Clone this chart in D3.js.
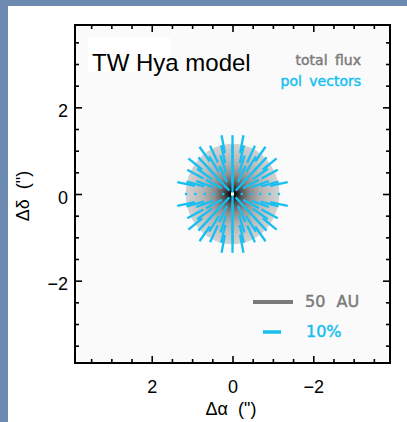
<!DOCTYPE html>
<html>
<head>
<meta charset="utf-8">
<script src="https://cdn.jsdelivr.net/npm/d3@7"></script>
<style>
  body{margin:0;padding:0;background:#fff;}
  svg{display:block;}
</style>
</head>
<body>
<div id="chart"></div>
<script>
// ticks (arcsec)
var majorTicks = [-2, 0, 2]
var minorTicks = [-3.5, -3, -2.5, -1.5, -1, -0.5, 0.5, 1, 1.5, 2.5, 3, 3.5]

// disk: radius in arcsec, total flux profile (radius fraction -> grey level)
var diskRadius = 1.16
var fluxRadius = [0, 0.08, 0.2, 0.38, 0.6, 0.85, 1]
var fluxGrey   = [0, 25, 85, 140, 178, 200, 210]

// grid of polarization vectors (arcsec)
var gridOffsets = [-1.15, -0.92, -0.69, -0.46, -0.23, 0, 0.23, 0.46, 0.69, 0.92, 1.15]
var polRingRadius = [0.23, 0.46, 0.69, 0.92, 1.15]
var polRingPct    = [10, 10, 10, 10.2, 10]
var polMidplanePct = 0.6

var W = 407, H = 422
var pl = 75, pr = 390, pt = 25, pb = 363
var cyan = "#16bff2", grey = "#7a7a7a"

var svg = d3.select("#chart").append("svg")
	.attr("width", W).attr("height", H)

// slide border
svg.append("rect").attr("x",0).attr("y",0).attr("width",W).attr("height",H).attr("fill","#6d8ab0")
svg.append("rect").attr("x",8).attr("y",6).attr("width",W-8).attr("height",H-6).attr("fill","#fff")

var x = d3.scaleLinear().domain([3.9, -3.9]).range([pl, pr])
var y = d3.scaleLinear().domain([-3.9, 3.9]).range([pb, pt])

svg.append("rect").attr("x",pl).attr("y",pt).attr("width",pr-pl).attr("height",pb-pt).attr("fill","#fafafa")

// total flux disk
var defs = svg.append("defs")
var grad = defs.append("radialGradient").attr("id","flux")
var greyScale = d3.scaleLinear().domain([0,255]).range(["#000","#fff"])
fluxRadius.forEach(function(r,i){
	grad.append("stop").attr("offset", r).attr("stop-color", greyScale(fluxGrey[i]))
})
svg.append("ellipse")
	.attr("cx", x(0)).attr("cy", y(0))
	.attr("rx", Math.abs(x(diskRadius)-x(0)))
	.attr("ry", Math.abs(y(diskRadius)-y(0)))
	.attr("fill","url(#flux)")

// vectors
var lenScale = d3.scaleLinear().domain([0,10]).range([0,18])
var polAt = d3.scaleQuantize().domain([0.115, 1.265]).range(polRingPct)
var vecs = []
gridOffsets.forEach(function(gx){
	gridOffsets.forEach(function(gy){
		var r = Math.sqrt(gx*gx+gy*gy)
		if (r < 0.01 || r > diskRadius*1.02) return
		var p = gy == 0 ? polMidplanePct : polAt(r)
		vecs.push({x:gx, y:gy, p:p})
	})
})
var cx = x(0), cy = y(0)
svg.append("g").selectAll("line")
	.data(vecs).enter().append("line")
	.each(function(d){
		var px = x(d.x), py = y(d.y)
		var a = Math.atan2(py-cy, px-cx)
		var h = Math.max(lenScale(d.p), 2.4)/2
		d3.select(this)
			.attr("x1", px - h*Math.cos(a)).attr("y1", py - h*Math.sin(a))
			.attr("x2", px + h*Math.cos(a)).attr("y2", py + h*Math.sin(a))
	})
	.attr("stroke", cyan).attr("stroke-width", 2.3)
svg.append("rect").attr("x",cx-1.5).attr("y",cy-1.5).attr("width",3).attr("height",3).attr("fill","#fff")

// axes, ticks inward on all four sides
function addAxis(axisFn, scale, tr, vals, size, labels, pad){
	var g = svg.append("g").attr("transform", tr)
		.call(axisFn(scale).tickValues(vals).tickSize(-size).tickPadding(pad||0)
			.tickFormat(labels ? d3.format("d") : ""))
	g.select(".domain").remove()
	g.selectAll("line").attr("stroke","#000").attr("stroke-width",1.6)
	g.selectAll("text").attr("font-family","'Liberation Sans', Arial, sans-serif")
		.attr("font-size", 18).attr("fill","#000")
	return g
}
addAxis(d3.axisBottom, x, "translate(0,"+pb+")", majorTicks, 7, true, 17)
addAxis(d3.axisBottom, x, "translate(0,"+pb+")", minorTicks, 4, false)
addAxis(d3.axisTop, x, "translate(0,"+pt+")", majorTicks, 7, false)
addAxis(d3.axisTop, x, "translate(0,"+pt+")", minorTicks, 4, false)
var yl = addAxis(d3.axisLeft, y, "translate("+pl+",0)", majorTicks, 7, true, 7)
yl.selectAll("text").attr("dy","0.5em")
addAxis(d3.axisLeft, y, "translate("+pl+",0)", minorTicks, 4, false)
addAxis(d3.axisRight, y, "translate("+pr+",0)", majorTicks, 7, false)
addAxis(d3.axisRight, y, "translate("+pr+",0)", minorTicks, 4, false)

svg.append("rect").attr("x",pl).attr("y",pt).attr("width",pr-pl).attr("height",pb-pt)
	.attr("fill","none").attr("stroke","#000").attr("stroke-width",2)

// axis titles
svg.append("text").attr("x", 231).attr("y", 415).attr("text-anchor","middle")
	.attr("font-family","'Liberation Sans', Arial, sans-serif").attr("font-size",18)
	.attr("word-spacing",5).text("Δα (\")")
svg.append("text").attr("transform","translate(29,196) rotate(-90)").attr("text-anchor","middle")
	.attr("font-family","'Liberation Sans', Arial, sans-serif").attr("font-size",18)
	.attr("word-spacing",5).text("Δδ (\")")

// title with its white box
svg.append("rect").attr("x",88).attr("y",38).attr("width",82).attr("height",34).attr("fill","#fff")
svg.append("text").attr("x",92).attr("y",71)
	.attr("font-family","'Liberation Sans', Arial, sans-serif").attr("font-size",24)
	.text("TW Hya model")

var lf = "'DejaVu Sans', sans-serif"
function legendText(xp, yp, anchor, size, ws, col, txt){
	svg.append("text").attr("x",xp).attr("y",yp).attr("text-anchor",anchor)
		.attr("font-family",lf).attr("font-size",size).attr("word-spacing",ws)
		.attr("fill",col).attr("stroke",col).attr("stroke-width",0.45)
		.text(txt)
}
legendText(361, 65, "end", 14, 3, grey, "total flux")
legendText(361, 86, "end", 14, 3, cyan, "pol vectors")

// scale bars
svg.append("line").attr("x1",253).attr("x2",293).attr("y1",302).attr("y2",302)
	.attr("stroke",grey).attr("stroke-width",4)
legendText(305, 307, "start", 16, 6, grey, "50 AU")
svg.append("line").attr("x1",263).attr("x2",263+lenScale(10)).attr("y1",332).attr("y2",332)
	.attr("stroke",cyan).attr("stroke-width",3.5)
legendText(306, 337, "start", 16, 0, cyan, "10%")
</script>
</body>
</html>
